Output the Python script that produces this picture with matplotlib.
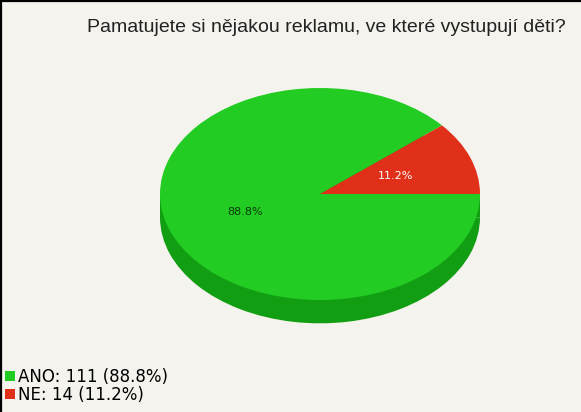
import matplotlib
matplotlib.use("Agg")
import matplotlib.pyplot as plt
from matplotlib.patches import Rectangle, Patch
from matplotlib.lines import Line2D

# ---- data ----
categories = ["ANO", "NE"]
counts = [111, 14]
title = "Pamatujete si nějakou reklamu, ve které vystupují děti?"

top_colors = ["#22cc22", "#e0301a"]
side_color = "#129e12"
bg = "#f4f3ed"

W, H = 581, 412
fig = plt.figure(figsize=(W / 100, H / 100), dpi=100, facecolor=bg)

# pie geometry in pixels
cx, cy = 320, 194
rx, ry = 160, 106
depth = 0.22  # in units of ry
ybot = -1 - depth - 0.02
left = (cx - rx) / W
width = 2 * rx / W
top_px = cy - ry
bot_px = cy - ybot * ry
ax = fig.add_axes([left, (H - bot_px) / H, width, (bot_px - top_px) / H])
ax.set_facecolor("none")

total = sum(counts)
start = 360.0 * counts[1] / total

# side (extrusion)
ax.pie(counts, colors=[side_color, side_color], startangle=start,
       counterclock=True, center=(0, -depth), radius=1,
       wedgeprops=dict(linewidth=0))
ax.add_patch(Rectangle((-1, -depth), 2, depth, facecolor=side_color,
                       edgecolor="none", zorder=0.5))

# top face
wedges, texts, autotexts = ax.pie(
    counts, colors=top_colors, startangle=start, counterclock=True,
    center=(0, 0), radius=1, autopct="%.1f%%", pctdistance=0.5,
    wedgeprops=dict(linewidth=0))
for w in wedges:
    w.set_zorder(2)
autotexts[0].set_color("#0a3a0a")
autotexts[1].set_color("white")
for t in autotexts:
    t.set_fontsize(8)
    t.set_family("DejaVu Sans")
    t.set_zorder(3)

ax.set_aspect("auto")
ax.set_xlim(-1, 1)
ax.set_ylim(ybot, 1)
ax.axis("off")

# title
fig.text(326 / W, 1 - 27 / H, title, ha="center", va="center",
         fontsize=14, family="Liberation Sans", color="#222222")

# legend
labels = [f"{c}: {n} ({100 * n / total:.1f}%)" for c, n in zip(categories, counts)]
handles = [Patch(facecolor=c, edgecolor="none") for c in top_colors]
fig.legend(handles, labels, loc="lower left", bbox_to_anchor=(2 / W, 5 / H),
           frameon=False, handlelength=0.55, handleheight=0.55,
           handletextpad=0.2, labelspacing=0.0, borderpad=0.2,
           borderaxespad=0, prop=dict(family="DejaVu Sans", size=12))

# border (top and left)
fig.add_artist(Line2D([0, 1], [1 - 1 / H, 1 - 1 / H], color="black",
                      linewidth=1.6, transform=fig.transFigure))
fig.add_artist(Line2D([1 / W, 1 / W], [0, 1], color="black",
                      linewidth=1.6, transform=fig.transFigure))

fig.savefig("out.png", dpi=100, facecolor=bg)
